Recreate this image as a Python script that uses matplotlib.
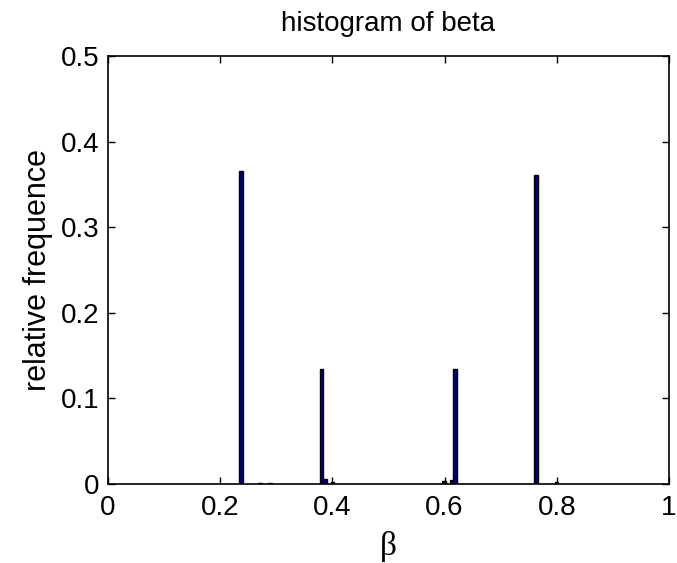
import matplotlib
matplotlib.use("Agg")
import matplotlib.pyplot as plt

# Histogram bins (centers) and relative frequencies
bin_centers = [0.237, 0.271, 0.289, 0.381, 0.387, 0.400, 0.599, 0.613, 0.619, 0.763, 0.800]
rel_freq    = [0.366, 0.0008, 0.0008, 0.134, 0.006, 0.002, 0.003, 0.005, 0.134, 0.361, 0.002]
bin_width = 0.006

xticks = [0, 0.2, 0.4, 0.6, 0.8, 1]
xtick_labels = ["0", "0.2", "0.4", "0.6", "0.8", "1"]
yticks = [0, 0.1, 0.2, 0.3, 0.4, 0.5]
ytick_labels = ["0", "0.1", "0.2", "0.3", "0.4", "0.5"]

plt.rcParams['font.family'] = ['Liberation Sans', 'DejaVu Sans']

fig = plt.figure(figsize=(6.77, 5.63), dpi=100)
ax = fig.add_axes([0.1595, 0.1403, 0.8285, 0.7602])

ax.bar(bin_centers, rel_freq, width=bin_width, color=(0.0, 0.0, 0.5),
       edgecolor='black', linewidth=1.0, align='center')

ax.set_xlim(0, 1)
ax.set_ylim(0, 0.5)
ax.set_xticks(xticks)
ax.set_xticklabels(xtick_labels)
ax.set_yticks(yticks)
ax.set_yticklabels(ytick_labels)
ax.tick_params(direction='in', length=5, width=1, top=True, right=True,
               labelsize=20)
ax.tick_params(axis='x', pad=8)
ax.tick_params(axis='y', pad=6)
for s in ax.spines.values():
    s.set_linewidth(1.2)

ax.set_title("histogram of beta", fontsize=20, pad=18)
ax.set_ylabel("relative frequence", fontsize=22, labelpad=6)
ax.set_xlabel("β", fontsize=24, family=['Liberation Serif', 'DejaVu Serif'], labelpad=7)

fig.savefig("out.png", dpi=100)
